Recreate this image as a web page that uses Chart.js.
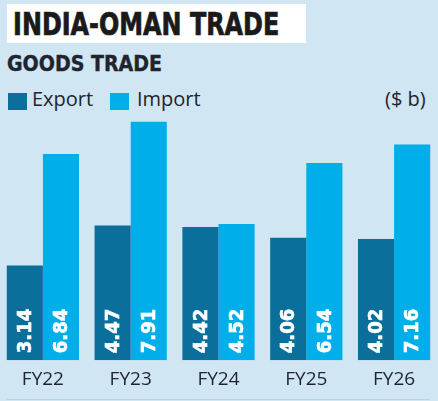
<!DOCTYPE html>
<html>
<head>
<meta charset="utf-8">
<script src="https://cdn.jsdelivr.net/npm/chart.js@4.4.1/dist/chart.umd.min.js"></script>
<style>
  html, body { margin: 0; padding: 0; }
  body { width: 438px; height: 401px; background: #d0e6f2; position: relative; overflow: hidden; font-family: "Open Sans", sans-serif; }
  .title-box { position: absolute; left: 7px; top: 4px; width: 299px; height: 39px; background: #fff; }
  .title { position: absolute; left: 6px; top: 1px; font-family: "DejaVu Sans Condensed", "DejaVu Sans", sans-serif; font-weight: bold; font-size: 32px; color: #1a1a1a; white-space: nowrap; transform: scaleX(0.83); transform-origin: left top; -webkit-text-stroke: 0.7px #1a1a1a; }
  .subtitle { position: absolute; left: 7px; top: 51px; font-family: "DejaVu Sans Condensed", "DejaVu Sans", sans-serif; font-weight: bold; font-size: 22px; color: #1e2430; white-space: nowrap; transform: scaleX(0.96); transform-origin: left top; -webkit-text-stroke: 0.4px #1e2430; }
  .legend { position: absolute; top: 85px; left: 8px; font-size: 20px; color: #1e2430; white-space: nowrap; }
  .legend span.sw { position: absolute; top: 8px; width: 19px; height: 17px; }
  .legend span.txt { position: absolute; top: 0; }
  .unit { position: absolute; left: 385px; top: 85px; font-size: 20px; color: #1e2430; }
  .rule { position: absolute; left: 7px; right: 8px; top: 399px; height: 1px; background: #b8d2e2; }
  #wrap { position: absolute; left: -1px; top: 0; width: 439px; height: 401px; }
</style>
</head>
<body>
<div class="title-box"><div class="title">INDIA-OMAN TRADE</div></div>
<div class="subtitle">GOODS TRADE</div>
<div class="legend">
  <span class="sw" style="left:0; background:#0a6f9b;"></span><span class="txt" style="left:24px;">Export</span>
  <span class="sw" style="left:102px; background:#00afea;"></span><span class="txt" style="left:129px;">Import</span>
</div>
<div class="unit">($ b)</div>
<div class="rule"></div>
<div id="wrap"><canvas id="chart"></canvas></div>
<script>
const years = ['FY22', 'FY23', 'FY24', 'FY25', 'FY26'];
const exportVals = [3.14, 4.47, 4.42, 4.06, 4.02];
const importVals = [6.84, 7.91, 4.52, 6.54, 7.16];

// white rotated values at the foot of each bar
const barValues = {
    id: 'barValues',
    afterDatasetsDraw(chart) {
        const { ctx } = chart;
        chart.data.datasets.forEach((ds, i) => {
            chart.getDatasetMeta(i).data.forEach((bar, j) => {
                ctx.save();
                ctx.translate(bar.x + 1, bar.base - 7);
                ctx.rotate(-Math.PI / 2);
                ctx.fillStyle = '#ffffff';
                ctx.strokeStyle = '#ffffff';
                ctx.lineWidth = 0.6;
                ctx.font = 'bold 20px "DejaVu Sans Condensed", "DejaVu Sans", sans-serif';
                ctx.textAlign = 'left';
                ctx.textBaseline = 'middle';
                ctx.fillText(ds.data[j].toFixed(2), 0, 0);
                ctx.strokeText(ds.data[j].toFixed(2), 0, 0);
                ctx.restore();
            });
        });
    }
};

new Chart(document.getElementById('chart'), {
    type: 'bar',
    data: {
        labels: years,
        datasets: [
            { label: 'Export', data: exportVals, backgroundColor: '#0a6f9b' },
            { label: 'Import', data: importVals, backgroundColor: '#00afea' }
        ]
    },
    options: {
        responsive: true,
        maintainAspectRatio: false,
        animation: false,
        layout: { padding: { top: 104, bottom: 2, left: 0, right: 0 } },
        datasets: { bar: { categoryPercentage: 0.823, barPercentage: 1.0 } },
        plugins: { legend: { display: false }, tooltip: { enabled: false } },
        scales: {
            y: { display: false, min: 0, max: 8.5 },
            x: {
                grid: { display: false, drawTicks: false },
                border: { display: false },
                ticks: { color: '#1e2430', padding: 8, font: { family: 'Open Sans', size: 19 } }
            }
        }
    },
    plugins: [barValues]
});
</script>
</body>
</html>
